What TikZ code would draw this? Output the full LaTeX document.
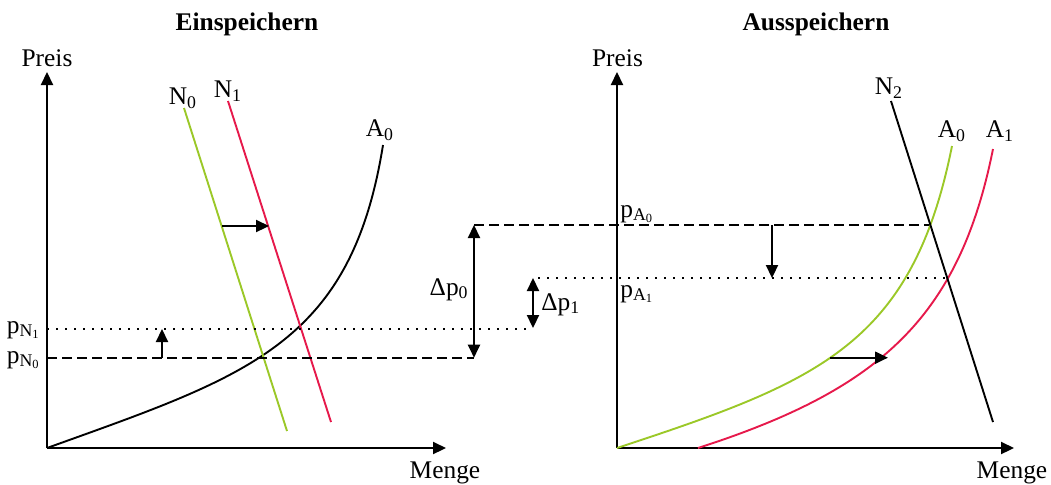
\documentclass[tikz,border=0pt]{standalone}
\usepackage{fontspec}
\setmainfont{Liberation Serif}
\usetikzlibrary{arrows.meta,positioning}
\definecolor{Gruen}{RGB}{155,200,40}
\definecolor{Rot}{RGB}{230,25,75}
\tikzset{
  achse/.style={-{Triangle[length=6.5pt,width=6pt]},line width=1.1pt},
  kurve/.style={line width=0.95pt},
  verschub/.style={-{Triangle[length=6.5pt,width=6pt]},line width=1.1pt},
  differenz/.style={{Triangle[length=6.5pt,width=6pt]}-{Triangle[length=6.5pt,width=6pt]},line width=1.1pt},
  preislinie/.style={line width=1pt,dash pattern=on 5pt off 2.5pt},
  punktlinie/.style={line width=1.1pt,dash pattern=on 1pt off 3.5pt},
  lab/.style={font=\fontsize{12.7}{15}\selectfont,inner sep=0pt},
  titel/.style={lab,font=\fontsize{12.7}{15}\selectfont\bfseries}
}

\begin{document}
\begin{tikzpicture}[x=0.5pt,y=-0.5pt]
\useasboundingbox (0,0) rectangle (1051,484);
% Einspeichern
\coordinate (O1) at (47,448);
\coordinate (O2) at (617,448);
\node[titel,anchor=base] (t1) at (247,30) {Einspeichern};
\node[titel,anchor=base] (t2) at (816,30) {Ausspeichern};
\draw[achse] (O1) -- (47,72) coordinate (Y1);
\draw[achse] (O1) -- (446,448) coordinate (X1);
\node[lab,anchor=base] (preis1) at (47,66) {Preis};
\node[lab,anchor=base] (menge1) at (445,478) {Menge};
\draw[kurve] (O1) .. controls (247,376) and (351,345) .. (383,145);
\draw[kurve,draw=Gruen] (184,108) coordinate (n0o) -- (287,431);
\draw[kurve,draw=Rot] (228,101) coordinate (n1o) -- (331,422);
\node[lab] (N0) at (183,98) {N\textsubscript{0}};
\node[lab] (N1) at (228,91) {N\textsubscript{1}};
\node[lab] (A0l) at (380,130) {A\textsubscript{0}};
\draw[verschub] (222,226) -- (269,226);
% Preise
\coordinate (pN0) at (47,357.7);
\coordinate (pN1) at (47,329);
\coordinate (pA0) at (474,225);
\coordinate (pA1) at (538,278);
\draw[preislinie] (pN0) -- (474,357.7) coordinate (d0u);
\draw[punktlinie] (pN1) -- (527,329);
\draw[verschub] (162,357.7) -- (162,329);
\node[lab,anchor=base east] (lN1) at (41,333) {p\textsubscript{N\textsubscript{1}}};
\node[lab,anchor=base east] (lN0) at (41,363) {p\textsubscript{N\textsubscript{0}}};
\draw[differenz] (d0u) -- (pA0);
\draw[differenz] (533,328) -- (533,278);
\node[lab,anchor=base east] (dp0) at (469,295) {Δp\textsubscript{0}};
\node[lab,anchor=base west] (dp1) at (541,310) {Δp\textsubscript{1}};
% Ausspeichern
\draw[achse] (O2) -- (617,72) coordinate (Y2);
\draw[achse] (O2) -- (1014,448) coordinate (X2);
\node[lab,anchor=base] (preis2) at (617.5,66) {Preis};
\node[lab,anchor=base] (menge2) at (1012,478) {Menge};
\draw[preislinie] (pA0) -- (931,225);
\draw[punktlinie] (pA1) -- (948,278);
\draw[kurve,draw=Gruen] (O2) .. controls (817,382) and (912,346) .. (952,146);
\draw[kurve,draw=Rot] (698,448) .. controls (878,390) and (959,319) .. (993,149);
\draw[kurve] (891,101) -- (993,422);
\node[lab] (N2) at (889,88) {N\textsubscript{2}};
\node[lab] (A0r) at (952,131) {A\textsubscript{0}};
\node[lab] (A1r) at (1000,131) {A\textsubscript{1}};
\node[lab,anchor=base west] (lA0) at (620,217) {p\textsubscript{A\textsubscript{0}}};
\node[lab,anchor=base west] (lA1) at (620,297) {p\textsubscript{A\textsubscript{1}}};
\draw[verschub] (772,225) -- (772,278);
\draw[verschub] (830,357.7) -- (888,357.7);
\end{tikzpicture}
\end{document}
